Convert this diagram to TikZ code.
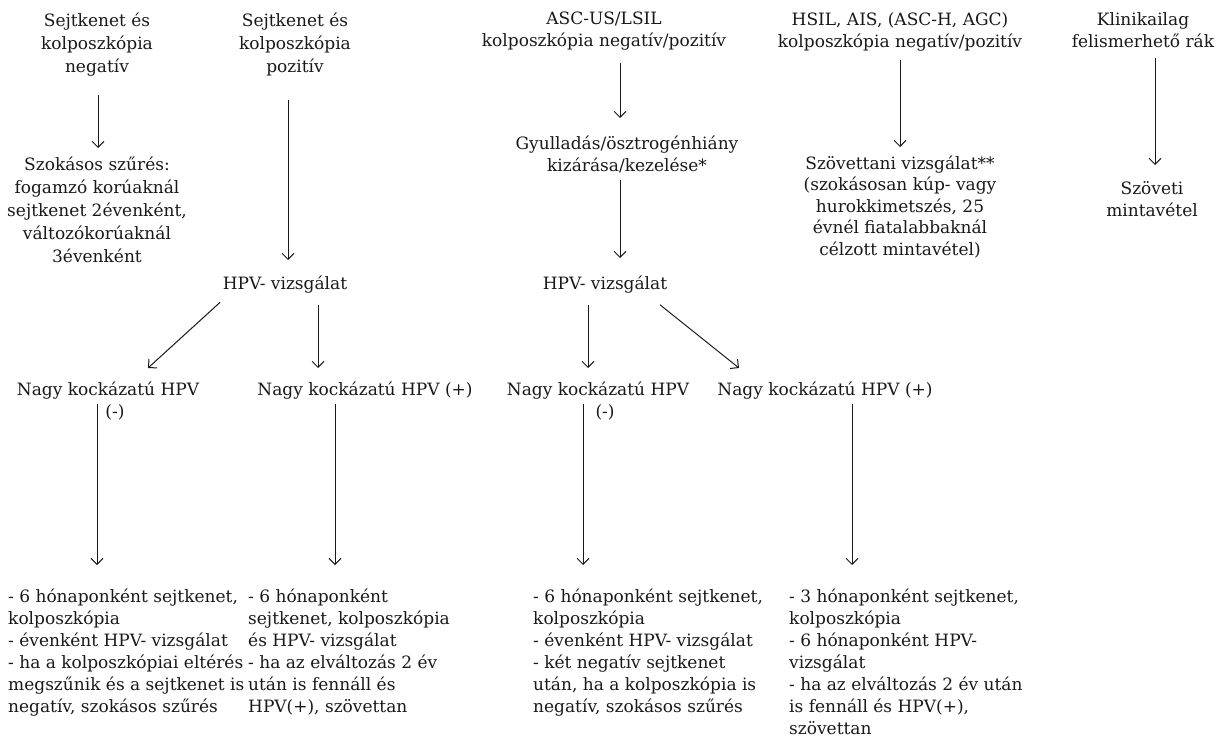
\documentclass[tikz,border=0pt]{standalone}
\usepackage{fontspec}
\setmainfont{DejaVu Serif}
\usetikzlibrary{arrows.meta,calc}
\definecolor{ink}{RGB}{25,25,25}
\tikzset{
  lbl/.style={font=\fontsize{17}{23}\selectfont, align=center, inner sep=0pt, anchor=north,
    text=ink, execute at begin node=\strut, execute at end node=\strut},
  lbltwo/.style={lbl, font=\fontsize{17}{22}\selectfont},
  para/.style={font=\fontsize{17}{22}\selectfont, align=left, inner sep=0pt, anchor=north west,
    text=ink, execute at begin node=\strut, execute at end node=\strut},
  arr/.style={draw=ink, line width=1pt, -{Straight Barb[length=6pt,width=12pt]}}
}
\begin{document}
\begin{tikzpicture}[x=1pt,y=-1pt]
\useasboundingbox[fill=white] (0,0) rectangle (1221,749);
% top row
\node[lbl] (N1) at (97,12.4) {Sejtkenet és\\kolposzkópia\\negatív};
\node[lbl] (N2) at (295,12.4) {Sejtkenet és\\kolposzkópia\\pozitív};
\node[lbltwo] (N3) at (604,12) {ASC-US/LSIL\\kolposzkópia negatív/pozitív};
\node[lbltwo] (N4) at (900,12) {HSIL, AIS, (ASC-H, AGC)\\kolposzkópia negatív/pozitív};
\node[lbltwo] (N5) at (1143,12) {Klinikailag\\felismerhető rák};
% second level
\node[lbl] (S1) at (97,156.4) {Szokásos szűrés:\\fogamzó korúaknál\\sejtkenet 2évenként,\\változókorúaknál\\3évenként};
\node[lbltwo] (G) at (627,136.1) {Gyulladás/ösztrogénhiány\\kizárása/kezelése*};
\node[lbl, font=\fontsize{17}{21.5}\selectfont] (T) at (900,155.5) {Szövettani vizsgálat**\\(szokásosan kúp- vagy\\hurokkimetszés, 25\\évnél fiatalabbaknál\\célzott mintavétel)};
\node[lbltwo] (SZ) at (1152,181.1) {Szöveti\\mintavétel};
% HPV tests
\node[lbl] (H1) at (285,273.4) {HPV- vizsgálat};
\node[lbl] (H2) at (605,273.4) {HPV- vizsgálat};
% results
\node[lbl] (L1) at (108,379.4) {Nagy kockázatú HPV};
\node[lbl] (L1m) at (115,401.4) {(-)};
\node[lbl] (L2) at (365,379.4) {Nagy kockázatú HPV (+)};
\node[lbl] (L3) at (598,379.4) {Nagy kockázatú HPV};
\node[lbl] (L3m) at (605,401.4) {(-)};
\node[lbl] (L4) at (825,379.4) {Nagy kockázatú HPV (+)};
% bottom paragraphs
\node[para] (B1) at (8,589.1) {- 6 hónaponként sejtkenet,\\kolposzkópia\\- évenként HPV- vizsgálat\\- ha a kolposzkópiai eltérés\\megszűnik és a sejtkenet is\\negatív, szokásos szűrés};
\node[para] (B2) at (248,589.1) {- 6 hónaponként\\sejtkenet, kolposzkópia\\és HPV- vizsgálat\\- ha az elváltozás 2 év\\után is fennáll és\\HPV(+), szövettan};
\node[para] (B3) at (533,589.1) {- 6 hónaponként sejtkenet,\\kolposzkópia\\- évenként HPV- vizsgálat\\- két negatív sejtkenet\\után, ha a kolposzkópia is\\negatív, szokásos szűrés};
\node[para] (B4) at (789,589.1) {- 3 hónaponként sejtkenet,\\kolposzkópia\\- 6 hónaponként HPV-\\vizsgálat\\- ha az elváltozás 2 év után\\is fennáll és HPV(+),\\szövettan};
% connectors
\draw[arr] ($(N1.south)+(1,15.6)$) -- ($(S1.north)+(1,-8.4)$);
\draw[arr] ($(N2.south)+(-7,20.6)$) -- ($(H1.north)+(3,-13.4)$);
\draw[arr] ($(H1.south)+(-65,5.6)$) -- ($(L1.north)+(40,-11.4)$);
\draw[arr] ($(H1.south)+(33,8.6)$) -- ($(L2.north)+(-47,-11.4)$);
\draw[arr] ($(L1.south)+(-11,1)$) -- ($(B1.north west)+(89,-24.1)$);
\draw[arr] ($(L2.south)+(-30,1)$) -- ($(B2.north west)+(87,-24.1)$);
\draw[arr] ($(N3.south)+(16,9)$) -- ($(G.north)+(-7,-18.1)$);
\draw[arr] ($(G.south)+(-7,1)$) -- ($(H2.north)+(15,-15.4)$);
\draw[arr] ($(H2.south)+(-17,8)$) -- ($(L3.north)+(-10,-11.4)$);
\draw[arr] ($(H2.south)+(55,8)$) -- ($(L4.north)+(-86,-11.4)$);
\draw[arr] ($(L3.south)+(-15,1)$) -- ($(B3.north west)+(50,-24.1)$);
\draw[arr] ($(L4.south)+(27,1)$) -- ($(B4.north west)+(63,-24.1)$);
\draw[arr] ($(N4.south)+(0,6)$) -- ($(T.north)+(0,-8.5)$);
\draw[arr] ($(N5.south)+(12,4)$) -- ($(SZ.north)+(3,-16.1)$);
\end{tikzpicture}
\end{document}
